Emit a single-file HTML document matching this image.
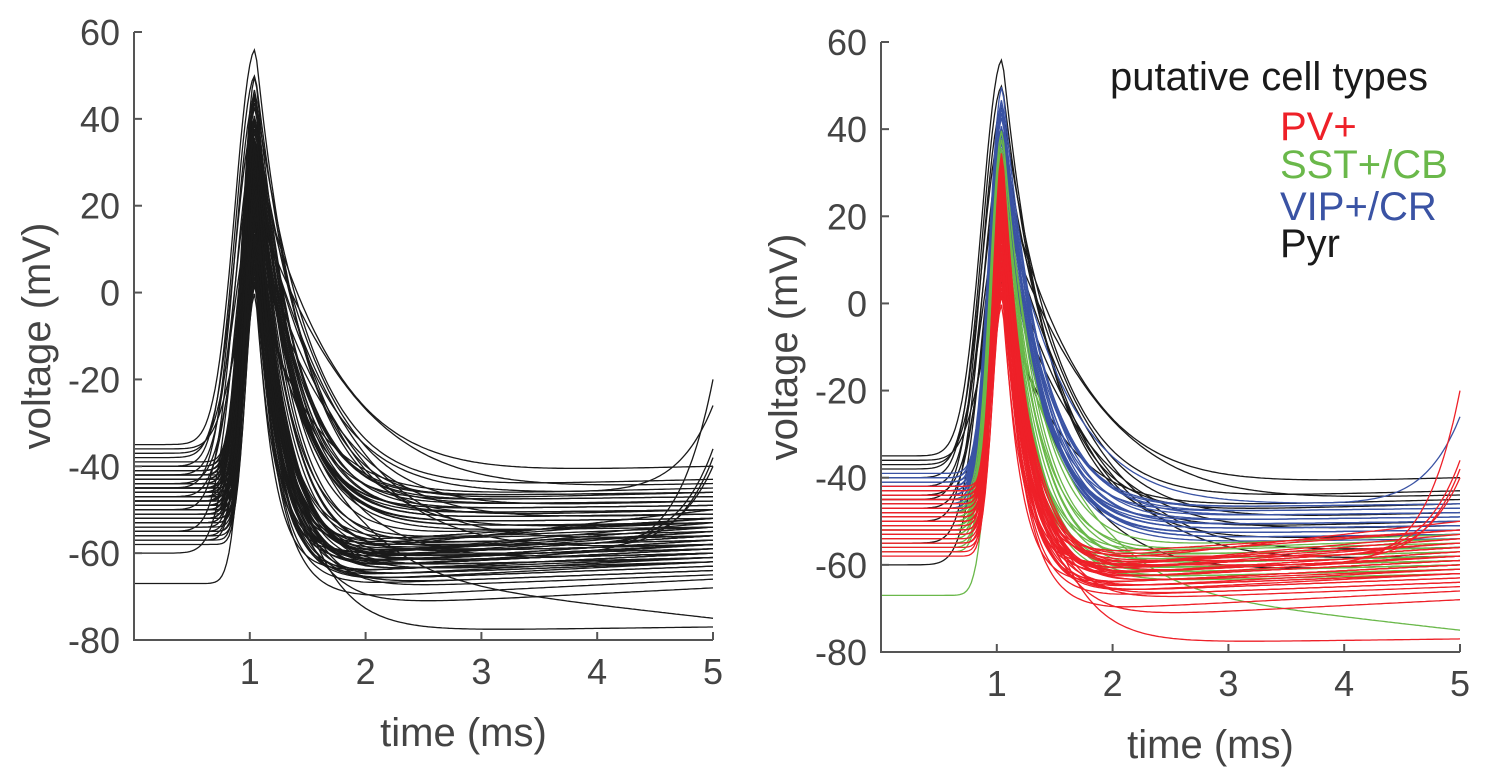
<!DOCTYPE html>
<html><head><meta charset="utf-8"><style>
body{margin:0;background:#fff;width:1496px;height:773px;overflow:hidden}
svg{display:block}
text{font-family:"Liberation Sans",sans-serif}
</style></head><body>
<svg id="s" width="1496" height="773"></svg>
<script>
// ---- data: per-trace waveform parameters (baseline, peak, decay tau, after-level, end-level) ----
const pvBase=[-42,-45,-48,-50,-52,-44,-46,-55,-47,-49,-51,-53,-43,-45,-56,-48,-50,-54,-46,-44,-52,-47,-49,-57,-45,-51,-43,-53,-48,-50,-46,-55,-44,-49,-52,-47,-58,-45,-50,-48];
const pvPeak=[0,5,8,10,12,15,18,20,22,25,28,30,32,35,3,7,11,14,17,19,21,24,26,29,31,33,9,13,16,23,27,2,6,34,12,20,18,25,10,4];
const pvTau=[0.16,0.18,0.2,0.22,0.17,0.25,0.19,0.21,0.23,0.18,0.2,0.26,0.17,0.22,0.15,0.19,0.24,0.2,0.18,0.21,0.27,0.16,0.2,0.23,0.19,0.22,0.18,0.25,0.2,0.17,0.21,0.3,0.19,0.22,0.2,0.18,0.35,0.21,0.2,0.17];
const pvAfter=[-60,-62,-65,-58,-64,-67,-61,-63,-59,-66,-62,-68,-57,-60,-64,-70,-61,-63,-58,-65,-62,-60,-66,-64,-59,-63,-67,-61,-62,-65,-60,-72,-58,-64,-63,-61,-78,-62,-66,-60];
const pvEnd=[-55,-58,-62,-52,-60,-64,-56,-59,-50,-62,-58,-65,-52,-54,-60,-66,-56,-59,-40,-62,-58,-54,-63,-61,-38,-59,-64,-55,-57,-61,-53,-68,-36,-60,-58,-56,-77,-57,-63,-20];
const sstBase=[-45,-48,-50,-52,-47,-55,-49,-51,-53,-46,-56,-50,-48,-54,-57,-52,-49,-67,-51,-53];
const sstPeak=[40,36,30,25,20,15,10,38,33,28,22,18,12,35,26,31,24,8,17,29];
const sstTau=[0.3,0.28,0.26,0.3,0.25,0.27,0.24,0.32,0.29,0.28,0.26,0.25,0.24,0.3,0.27,0.29,0.26,0.6,0.25,0.28];
const sstAfter=[-58,-60,-62,-57,-63,-61,-59,-56,-60,-64,-62,-58,-61,-59,-63,-60,-62,-66,-57,-61];
const sstEnd=[-56,-58,-60,-54,-61,-59,-57,-53,-58,-62,-60,-56,-59,-57,-61,-58,-60,-75,-55,-59];
const vipBase=[-40,-42,-44,-46,-41,-43,-45,-47,-39,-42,-44,-48,-41,-43,-46,-40,-45,-42,-44,-47,-43,-41];
const vipPeak=[50,47,45,43,40,38,36,34,32,30,28,26,44,41,37,35,33,29,46,39,31,27];
const vipTau=[0.35,0.33,0.36,0.34,0.32,0.35,0.33,0.37,0.34,0.32,0.36,0.34,0.35,0.33,0.4,0.34,0.32,0.36,0.34,0.35,0.33,0.55];
const vipAfter=[-50,-52,-48,-54,-51,-49,-53,-47,-52,-50,-55,-48,-51,-53,-49,-52,-50,-54,-47,-51,-53,-46];
const vipEnd=[-49,-51,-47,-53,-50,-48,-52,-46,-51,-49,-54,-47,-50,-52,-48,-51,-49,-53,-46,-50,-52,-26];
const pyrBase=[-35,-40,-45,-38,-50,-42,-55,-37,-47,-44,-60,-36];
const pyrPeak=[56,50,45,40,35,30,23,20,15,10,5,2];
const pyrTau=[0.4,0.45,0.5,0.55,0.6,0.7,0.8,0.9,0.85,0.75,0.6,0.5];
const pyrAfter=[-48,-52,-45,-55,-50,-42,-58,-46,-60,-53,-62,-47];
const pyrEnd=[-46,-50,-43,-53,-48,-40,-56,-44,-58,-51,-60,-45];
const yTicks=[60,40,20,0,-20,-40,-60,-80];
const xTicks=[1,2,3,4,5];
const types=[
 {name:'pyr',color:'#1a1a1a',rise:0.25,b:pyrBase,p:pyrPeak,t:pyrTau,a:pyrAfter,e:pyrEnd},
 {name:'vip',color:'#3a53a4',rise:0.16,b:vipBase,p:vipPeak,t:vipTau,a:vipAfter,e:vipEnd},
 {name:'sst',color:'#6ab84a',rise:0.15,b:sstBase,p:sstPeak,t:sstTau,a:sstAfter,e:sstEnd},
 {name:'pv',color:'#ee2028',rise:0.12,b:pvBase,p:pvPeak,t:pvTau,a:pvAfter,e:pvEnd}
];
const NS='http://www.w3.org/2000/svg';
const svg=document.getElementById('s');
function el(tag,attrs,parent){const e=document.createElementNS(NS,tag);for(const k in attrs)e.setAttribute(k,attrs[k]);(parent||svg).appendChild(e);return e;}
function wave(t,b,p,tau,a,e,rise){
 const tp=1.05;
 if(t<tp){return b+(p-b)*Math.exp(-Math.pow((t-tp)/rise,2));}
 const pw=Math.abs(e-a)>12?10:1;
 const lvl=a+(e-a)*Math.pow(Math.max(0,(t-2))/3,pw);
 const d=t-tp;
 return lvl+(p-lvl)*Math.exp(-d/tau)*Math.exp(-d*d*0.2);
}
function plot(x0,x1,y0,y1,colored,id){
 const X=v=>x0+(v/5)*(x1-x0);
 const Y=v=>y1-(v+80)/140*(y1-y0);
 const g=el('g',{});
 
 
 const cp=el('clipPath',{id:id+'-clip'},g);el('rect',{x:x0,y:y0-20,width:x1-x0+2,height:y1-y0+20},cp);
 const lines=el('g',{'clip-path':'url(#'+id+'-clip)'},g);
 types.forEach(ty=>{
  for(let i=0;i<ty.b.length;i++){
   let d='';
   for(let k=0;k<=250;k++){const t=k/50;d+=(k?'L':'M')+X(t).toFixed(1)+','+Y(wave(t,ty.b[i],ty.p[i],ty.t[i],ty.a[i],ty.e[i],ty.rise)).toFixed(1);}
   const pth=el('path',{d:d,fill:'none',stroke:colored?ty.color:'#1a1a1a','stroke-width':1.3},lines);
   
   
  }
 });
 const ax=el('path',{d:`M${x0},${y0}V${y1}H${x1}`,fill:'none',stroke:'#555','stroke-width':2},g);
 
 
 yTicks.forEach(v=>{
  el('line',{x1:x0,x2:x0+8,y1:Y(v),y2:Y(v),stroke:'#555','stroke-width':2},g);
  const tx=el('text',{x:x0-14,y:Y(v)+13,'text-anchor':'end','font-size':36,fill:'#444'},g);tx.textContent=v;
  
  
 });
 xTicks.forEach(v=>{
  el('line',{x1:X(v),x2:X(v),y1:y1,y2:y1-8,stroke:'#555','stroke-width':2},g);
  const tx=el('text',{x:X(v),y:y1+44,'text-anchor':'middle','font-size':36,fill:'#444'},g);tx.textContent=v;
  
  
 });
 const xt=el('text',{x:(x0+x1)/2+40,y:y1+106,'text-anchor':'middle','font-size':40,fill:'#444'},g);xt.textContent='time (ms)';
 
 
 const yt=el('text',{transform:`translate(${x0-84},${(y0+y1)/2}) rotate(-90)`,'text-anchor':'middle','font-size':40,fill:'#444'},g);yt.textContent='voltage (mV)';
 
 
}
plot(134,713,32,640,false,'left-chart');
plot(881,1460,42,652,true,'right-chart');
const leg=[['putative cell types','#1a1a1a',1110,90],['PV+','#ee2028',1280,140],['SST+/CB','#6ab84a',1280,178],['VIP+/CR','#3a53a4',1280,220],['Pyr','#1a1a1a',1280,257]];
leg.forEach(l=>{const t=el('text',{x:l[2],y:l[3],'font-size':40,fill:l[1]});t.textContent=l[0];
 
 });
</script>
</body></html>
